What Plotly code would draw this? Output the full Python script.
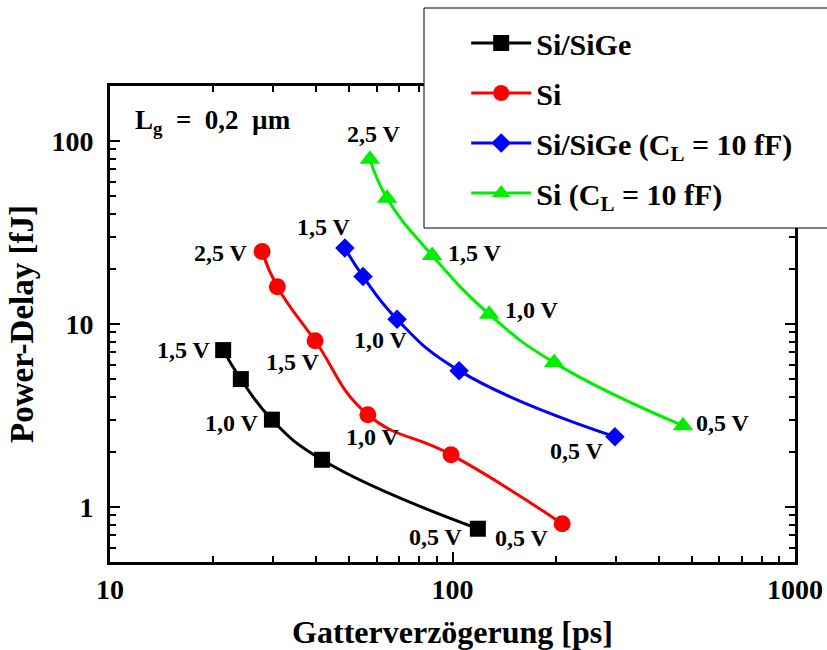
import math
import plotly.graph_objects as go

# ---- data ----
sisige_delay = [21.4, 24.1, 29.7, 41.6, 118.6]
sisige_pd = [7.2, 5.0, 3.0, 1.81, 0.76]
sisige_lbl = ["1,5 V", "", "1,0 V", "", "0,5 V"]

si_delay = [27.8, 30.8, 39.7, 56.6, 99.0, 209.0]
si_pd = [24.9, 16.0, 8.1, 3.19, 1.93, 0.81]
si_lbl = ["2,5 V", "", "1,5 V", "1,0 V", "", "0,5 V"]

sisige_cl_delay = [48.5, 54.8, 68.9, 104.5, 298.0]
sisige_cl_pd = [26.0, 18.2, 10.6, 5.56, 2.42]
sisige_cl_lbl = ["1,5 V", "", "1,0 V", "", "0,5 V"]

si_cl_delay = [57.4, 64.4, 87.2, 128.0, 198.0, 471.0]
si_cl_pd = [79.6, 48.7, 23.7, 11.3, 6.15, 2.78]
si_cl_lbl = ["2,5 V", "", "1,5 V", "1,0 V", "", "0,5 V"]

names = ["Si/SiGe", "Si", "Si/SiGe (C<sub>L</sub> = 10 fF)", "Si (C<sub>L</sub> = 10 fF)"]
colors = ["#000000", "#ff0000", "#0000ff", "#00ee00"]
symbols = ["square", "circle", "diamond", "triangle-up"]
msizes = [16, 17, 15, 18]

# label pixel offsets (dx, dy up) per labelled point
offs = [
    [(-39, 0), None, (-40, -3), None, (-42, -8)],
    [(-41, -1), None, (-22, -21), (5, -22), None, (-40, -14)],
    [(-21, 21), None, (-16, -21), None, (-38, -14)],
    [(4, 25), None, (43, 2), (43, 4), None, (40, 3)],
]

series = [
    (sisige_delay, sisige_pd, sisige_lbl),
    (si_delay, si_pd, si_lbl),
    (sisige_cl_delay, sisige_cl_pd, sisige_cl_lbl),
    (si_cl_delay, si_cl_pd, si_cl_lbl),
]

FONT = "Liberation Serif"

fig = go.Figure()
annotations = []
for i, (xs, ys, lb) in enumerate(series):
    fig.add_trace(go.Scatter(
        x=xs, y=ys, mode="lines+markers", name="<b>" + names[i] + "</b>",
        legendgroup=str(i),
        line=dict(color=colors[i], width=3, shape="spline", smoothing=1.3),
        marker=dict(symbol=symbols[i], size=msizes[i], color=colors[i]),
    ))
    for j, t in enumerate(lb):
        if t:
            dx, dy = offs[i][j]
            annotations.append(dict(
                x=math.log10(xs[j]), y=math.log10(ys[j]), xref="x", yref="y",
                text="<b>" + t + "</b>", showarrow=False,
                xshift=dx, yshift=dy, xanchor="center", yanchor="middle",
                font=dict(family=FONT, size=24, color="black"),
            ))

annotations.append(dict(
    x=0.034, y=0.924, xref="paper", yref="paper", xanchor="left", yanchor="middle",
    text="<b>L<sub>g</sub>&nbsp;&nbsp;=&nbsp;&nbsp;0,2&nbsp;&nbsp;µm</b>", showarrow=False,
    font=dict(family=FONT, size=27, color="black"),
))

minor_x = [m * 10 ** d for d in (1, 2) for m in range(2, 10)]
minor_y = [m * 10 ** d for d in (-1, 0, 1, 2) for m in range(2, 10)]


def axis_common(minor_vals):
    return dict(
        type="log", showline=True, linewidth=3, linecolor="black", mirror="ticks",
        ticks="inside", ticklen=10, tickwidth=2, tickcolor="black",
        showgrid=False, zeroline=False, automargin=False,
        tickfont=dict(family=FONT, size=28, color="black"),
        minor=dict(ticks="inside", ticklen=6, tickwidth=2, tickcolor="black",
                   showgrid=False, tickmode="array", tickvals=minor_vals),
    )


fig.update_layout(
    width=827, height=650,
    margin=dict(l=110, r=32, t=86, b=88, autoexpand=False),
    paper_bgcolor="white", plot_bgcolor="white",
    xaxis=dict(range=[1, 3], tickmode="array", tickvals=[10, 100, 1000],
               ticktext=["<b>10</b>", "<b>100</b>", "<b>1000</b>"],
               title=dict(text="<b>Gatterverzögerung [ps]</b>", standoff=20,
                          font=dict(family=FONT, size=32, color="black")),
               **axis_common(minor_x)),
    yaxis=dict(range=[-0.30103, 2.30103], tickmode="array", tickvals=[1, 10, 100],
               ticktext=["<b>1</b>", "<b>10</b>", "<b>100</b>"], ticklabelstandoff=8,
               title=dict(text="<b>Power-Delay [fJ]</b>", standoff=8,
                          font=dict(family=FONT, size=33, color="black")),
               **axis_common(minor_y)),
    legend=dict(x=0.52, y=1.145, xanchor="left", yanchor="top",
                bgcolor="rgba(0,0,0,0)", borderwidth=0,
                tracegroupgap=8, itemwidth=60,
                font=dict(family=FONT, size=30, color="black")),
    shapes=[dict(type="rect", xref="paper", yref="paper",
                 x0=(424 - 110) / 685, x1=(835 - 110) / 685,
                 y0=(562 - 228) / 476, y1=(562 - 8) / 476,
                 line=dict(color="black", width=1), fillcolor="white", layer="above")],
    annotations=annotations,
)

fig.write_html("out.html")
